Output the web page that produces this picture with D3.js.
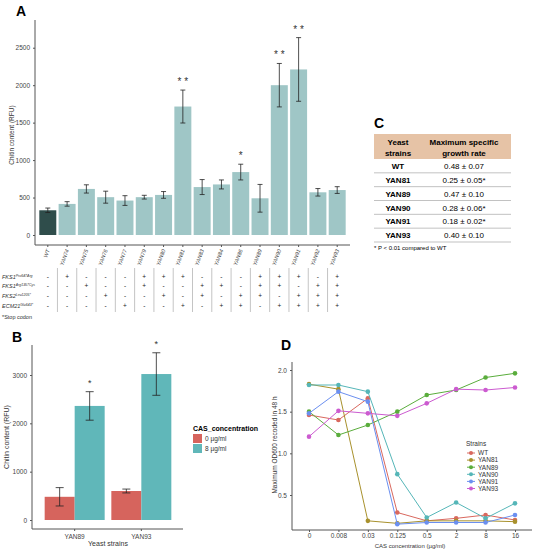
<!DOCTYPE html>
<html><head><meta charset="utf-8">
<script src="https://cdn.jsdelivr.net/npm/d3@7"></script>
<style>body{margin:0;background:#fff}text{font-family:"Liberation Sans",Arial,sans-serif}</style>
</head><body>
<script>
// panel A data
var strainsA = ["WT","YAN74","YAN75","YAN76","YAN77","YAN79","YAN80","YAN81","YAN83","YAN84","YAN86","YAN89","YAN90","YAN91","YAN92","YAN93"];
var chitinA = [330,415,615,505,460,505,535,1715,640,675,840,490,2000,2210,570,600];
var errA = [30,30,55,80,65,25,45,220,100,60,105,185,290,425,50,45];
var starsA = ["","","","","","","","**","","","*","","**","**","",""];
var mutNames = ["FKS1","FKS1","FKS2","ECM21"];
var mutSups = ["Pro647Arg","Arg1357Cys","Leu1205*","Glu643*"];
var mutRows = [
  "-+---+++---+++-+",
  "--+--+--++-++-++",
  "---+--+-+-++-+++",
  "----+--+-++-++++"
];
// panel B data
var strainsB = ["YAN89","YAN93"];
var casLevels = ["0 µg/ml","8 µg/ml"];
var chitinB0 = [480,600], errB0 = [190,40];
var chitinB8 = [2360,3020], errB8 = [295,440];
// panel C data
var tblStrains = ["WT","YAN81","YAN89","YAN90","YAN91","YAN93"];
var tblRates = ["0.48 ± 0.07","0.25 ± 0.05*","0.47 ± 0.10","0.28 ± 0.06*","0.18 ± 0.02*","0.40 ± 0.10"];
// panel D data
var casConc = ["0","0.008","0.03","0.125","0.5","2","8","16"];
var seriesD = ["WT","YAN81","YAN89","YAN90","YAN91","YAN93"];
var odWT = [1.46,1.40,1.66,0.29,0.19,0.22,0.26,0.20];
var od81 = [1.83,1.77,0.19,0.16,0.19,0.19,0.19,0.18];
var od89 = [1.50,1.22,1.34,1.50,1.70,1.76,1.91,1.96];
var od90 = [1.82,1.82,1.74,0.75,0.23,0.41,0.22,0.40];
var od91 = [1.48,1.74,1.62,0.15,0.17,0.17,0.17,0.26];
var od93 = [1.20,1.51,1.48,1.45,1.60,1.77,1.76,1.79];

var svg = d3.select("body").append("svg").attr("width",535).attr("height",549);
var axCol = "#555";
function styleAxis(g){
  g.select(".domain").attr("stroke",axCol);
  g.selectAll(".tick line").attr("stroke",axCol);
  g.selectAll(".tick text").attr("fill","#444").attr("font-size",6.5);
}
function panelLabel(t,x,y){ svg.append("text").attr("x",x).attr("y",y).text(t).attr("font-weight","bold").attr("font-size",14); }

// ---- A ----
panelLabel("A",16,16);
var xA = d3.scaleBand().domain(strainsA).range([37,348]).padding(0.12);
var yA = d3.scaleLinear().domain([0,2750]).range([235,29]);
var gA = svg.append("g");
gA.append("g").attr("transform","translate(0,245)").call(d3.axisBottom(xA).tickSize(2).tickFormat("")).call(styleAxis).select(".domain").attr("d","M35,0H350");
gA.append("g").attr("transform","translate(35,0)").call(d3.axisLeft(yA).tickValues([0,500,1000,1500,2000,2500]).tickFormat(d3.format("d")).tickSize(2)).call(styleAxis).select(".domain").attr("d","M0,20V245");
gA.selectAll(".bar").data(strainsA).enter().append("rect")
  .attr("x",d=>xA(d)).attr("width",xA.bandwidth())
  .attr("y",(d,i)=>yA(chitinA[i])).attr("height",(d,i)=>235-yA(chitinA[i]))
  .attr("fill",(d,i)=>i==0?"#2f4d4b":"#9fc6c6");
strainsA.forEach(function(d,i){
  var cx = xA(d)+xA.bandwidth()/2, y1=yA(chitinA[i]-errA[i]), y2=yA(chitinA[i]+errA[i]);
  gA.append("path").attr("d","M"+cx+","+y1+"V"+y2+"M"+(cx-2.5)+","+y1+"H"+(cx+2.5)+"M"+(cx-2.5)+","+y2+"H"+(cx+2.5)).attr("stroke","#222").attr("stroke-width",0.8).attr("fill","none");
  if(starsA[i]) gA.append("text").attr("x",cx).attr("y",y2-5).attr("text-anchor","middle").attr("font-size",10).attr("fill","#333").text(starsA[i].split("").join(" "));
  gA.append("text").attr("transform","translate("+(cx+2)+",250) rotate(-70)").attr("text-anchor","end").attr("font-size",5.5).attr("font-style","italic").attr("fill","#444").text(d);
});
gA.append("text").attr("transform","translate(14,135) rotate(-90)").attr("text-anchor","middle").attr("font-size",6.5).attr("fill","#333").text("Chitin content (RFU)");
// mutation table
var rowY = [277,286,296,306];
mutNames.forEach(function(n,r){
  var t = gA.append("text").attr("x",2).attr("y",rowY[r]+2).attr("font-size",5.5).attr("font-style","italic").attr("fill","#333");
  t.append("tspan").text(n);
  t.append("tspan").attr("font-size",3.5).attr("dy",-2.5).text(mutSups[r]);
  strainsA.forEach(function(d,i){
    gA.append("text").attr("x",xA(d)+xA.bandwidth()/2).attr("y",rowY[r]+2).attr("text-anchor","middle").attr("font-size",6.5).attr("fill","#222").text(mutRows[r][i]);
  });
});
strainsA.forEach(function(d,i){
  var x = xA(d)+xA.bandwidth()+xA.step()*xA.padding()/2;
  if(i<strainsA.length-1) gA.append("line").attr("x1",x).attr("x2",x).attr("y1",268).attr("y2",312).attr("stroke","#888").attr("stroke-width",0.5);
});
gA.append("text").attr("x",2).attr("y",319).attr("font-size",5.5).attr("fill","#333").text("*Stop codon");

// ---- C ----
panelLabel("C",374,128);
var tx0=374, tx1=511;
svg.append("rect").attr("x",tx0).attr("y",134).attr("width",tx1-tx0).attr("height",25).attr("fill","#e6c3a6");
[["Yeast",145],["strains",156]].forEach(a=>svg.append("text").attr("x",398).attr("y",a[1]).attr("text-anchor","middle").attr("font-weight","bold").attr("font-size",8).text(a[0]));
[["Maximum specific",145],["growth rate",156]].forEach(a=>svg.append("text").attr("x",464).attr("y",a[1]).attr("text-anchor","middle").attr("font-weight","bold").attr("font-size",8).text(a[0]));
var yT = d3.scaleBand().domain(tblStrains).range([159,242]);
tblStrains.forEach(function(s,i){
  var y=yT(s);
  svg.append("text").attr("x",398).attr("y",y+10).attr("text-anchor","middle").attr("font-weight","bold").attr("font-size",8).text(s);
  svg.append("text").attr("x",464).attr("y",y+10).attr("text-anchor","middle").attr("font-size",8).text(tblRates[i]);
  svg.append("line").attr("x1",tx0).attr("x2",tx1).attr("y1",y+yT.bandwidth()).attr("y2",y+yT.bandwidth()).attr("stroke","#999").attr("stroke-width",0.6);
});
svg.append("text").attr("x",tx0).attr("y",250).attr("font-size",6).text("* P < 0.01 compared to WT");

// ---- B ----
panelLabel("B",12,342);
var xB = d3.scaleBand().domain(strainsB).range([38,178]).paddingInner(0.1).paddingOuter(0.1);
var xBi = d3.scaleBand().domain(casLevels).range([0,xB.bandwidth()]);
var yB = d3.scaleLinear().domain([0,3600]).range([520,346]);
var cB = d3.scaleOrdinal().domain(casLevels).range(["#d6645d","#60b7b9"]);
var gB = svg.append("g");
gB.append("g").attr("transform","translate(0,529)").call(d3.axisBottom(xB).tickSize(2)).call(styleAxis).select(".domain").attr("d","M32,0H183");
gB.append("g").attr("transform","translate(32,0)").call(d3.axisLeft(yB).tickValues([0,1000,2000,3000]).tickFormat(d3.format("d")).tickSize(2)).call(styleAxis).select(".domain").attr("d","M0,345V529");
var bData = [];
strainsB.forEach(function(s,i){ bData.push([s,casLevels[0],chitinB0[i],errB0[i]]); bData.push([s,casLevels[1],chitinB8[i],errB8[i]]); });
bData.forEach(function(d){
  var x = xB(d[0])+xBi(d[1]), w=xBi.bandwidth(), cx=x+w/2;
  gB.append("rect").attr("x",x).attr("width",w).attr("y",yB(d[2])).attr("height",520-yB(d[2])).attr("fill",cB(d[1]));
  var y1=yB(d[2]-d[3]), y2=yB(d[2]+d[3]);
  gB.append("path").attr("d","M"+cx+","+y1+"V"+y2+"M"+(cx-4)+","+y1+"H"+(cx+4)+"M"+(cx-4)+","+y2+"H"+(cx+4)).attr("stroke","#222").attr("stroke-width",0.8).attr("fill","none");
  if(d[1]==casLevels[1]) gB.append("text").attr("x",cx).attr("y",y2-6).attr("text-anchor","middle").attr("font-size",9).attr("fill","#333").text("*");
});
gB.append("text").attr("x",108).attr("y",546).attr("text-anchor","middle").attr("font-size",7).attr("fill","#333").text("Yeast strains");
gB.append("text").attr("transform","translate(9,437) rotate(-90)").attr("text-anchor","middle").attr("font-size",7).attr("fill","#333").text("Chitin content (RFU)");
gB.append("text").attr("x",193).attr("y",431).attr("font-size",7).attr("font-weight","bold").text("CAS_concentration");
casLevels.forEach(function(c,i){
  gB.append("rect").attr("x",193).attr("y",434+i*10).attr("width",9).attr("height",9).attr("fill",cB(c));
  gB.append("text").attr("x",205).attr("y",441+i*10).attr("font-size",6.5).attr("fill","#333").text(c);
});

// ---- D ----
panelLabel("D",281,350);
var xD = d3.scalePoint().domain(casConc).range([309,515]);
var yD = d3.scaleLinear().domain([0.5,2.0]).range([495,370]);
var cD = d3.scaleOrdinal().domain(seriesD).range(["#d9685e","#a8912d","#5aad3c","#55b6b8","#6b8ff0","#cc5bd0"]);
var odAll = [odWT,od81,od89,od90,od91,od93];
var gD = svg.append("g");
gD.append("g").attr("transform","translate(0,530)").call(d3.axisBottom(xD).tickSize(2).tickPadding(1)).call(styleAxis).select(".domain").attr("d","M292,0H532");
gD.append("g").attr("transform","translate(292,0)").call(d3.axisLeft(yD).tickValues([0.5,1.0,1.5,2.0]).tickFormat(d3.format(".1f")).tickSize(2)).call(styleAxis).select(".domain").attr("d","M0,362V530");
var line = d3.line().x((d,i)=>xD(casConc[i])).y(d=>yD(d));
seriesD.forEach(function(s,k){
  gD.append("path").datum(odAll[k]).attr("d",line).attr("fill","none").attr("stroke",cD(s)).attr("stroke-width",1);
  gD.selectAll(".p"+k).data(odAll[k]).enter().append("circle").attr("cx",(d,i)=>xD(casConc[i])).attr("cy",d=>yD(d)).attr("r",2.3).attr("fill",cD(s));
});
gD.append("text").attr("x",410).attr("y",547.5).attr("text-anchor","middle").attr("font-size",6).attr("fill","#333").text("CAS concentration (µg/ml)");
gD.append("text").attr("transform","translate(277,445) rotate(-90)").attr("text-anchor","middle").attr("font-size",6.5).attr("fill","#333").text("Maximum OD600 recoded in 48 h");
gD.append("text").attr("x",466).attr("y",446).attr("font-size",6.5).attr("fill","#333").text("Strains");
seriesD.forEach(function(s,k){
  var y=453+k*7.1;
  gD.append("line").attr("x1",467).attr("x2",475).attr("y1",y).attr("y2",y).attr("stroke",cD(s));
  gD.append("circle").attr("cx",471).attr("cy",y).attr("r",2).attr("fill",cD(s));
  gD.append("text").attr("x",478).attr("y",y+2.3).attr("font-size",6.5).attr("fill","#333").text(s);
});
</script>
</body></html>
